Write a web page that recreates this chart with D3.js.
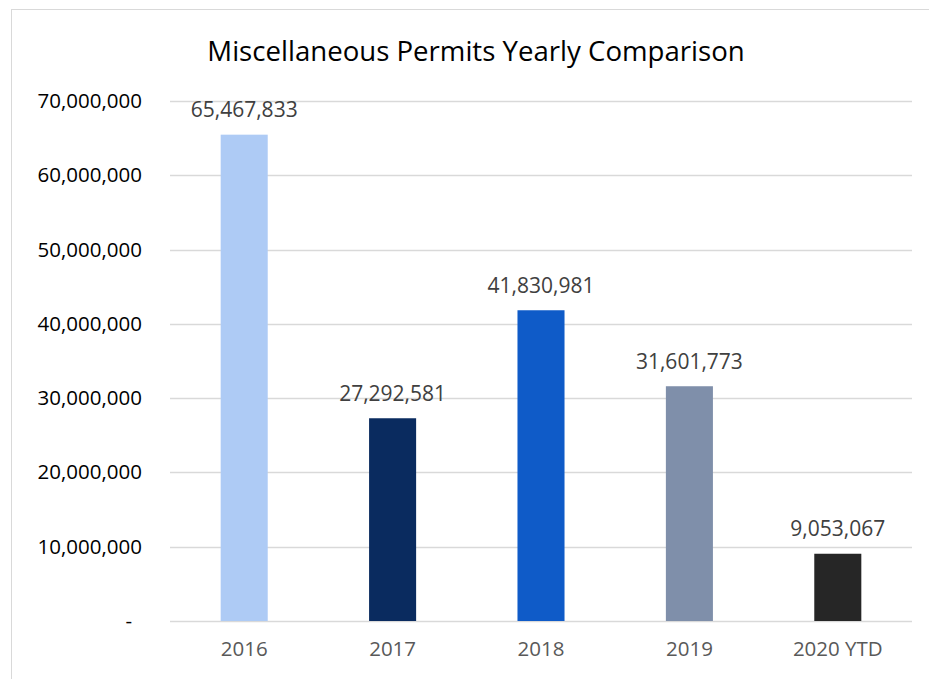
<!DOCTYPE html>
<html>
<head>
<meta charset="utf-8">
<script src="https://cdn.jsdelivr.net/npm/d3@7"></script>
<style>
  body { margin: 0; background: #fff; }
  text { font-family: "Open Sans", sans-serif; }
</style>
</head>
<body>
<div id="chart"></div>
<script>
const W = 929, H = 679;
const margin = { top: 101, right: 17, bottom: 58, left: 170 };
const width = W - margin.left - margin.right;
const height = H - margin.top - margin.bottom;

// data
const years = ["2016", "2017", "2018", "2019", "2020 YTD"];
const amounts = [65467833, 27292581, 41830981, 31601773, 9053067];
const barColors = ["#aecbf5", "#0a2b5f", "#0f5bc8", "#7f8faa", "#262626"];
const yTicks = [0, 10000000, 20000000, 30000000, 40000000, 50000000, 60000000, 70000000];

const dataset = years.map((y, i) => ({ year: y, value: amounts[i], color: barColors[i] }));

const svg = d3.select("#chart").append("svg")
  .attr("width", W)
  .attr("height", H);

// chart outline
svg.append("rect")
  .attr("x", 11.5).attr("y", 9.5)
  .attr("width", W).attr("height", H)
  .attr("fill", "none")
  .attr("stroke", "#d9d9d9")
  .attr("stroke-width", 1);

// title
svg.append("text")
  .attr("x", 476)
  .attr("y", 61)
  .attr("text-anchor", "middle")
  .style("font-size", "27.6px")
  .style("fill", "#000")
  .text("Miscellaneous Permits Yearly Comparison");

const g = svg.append("g")
  .attr("transform", `translate(${margin.left},${margin.top})`);

const x = d3.scaleBand()
  .domain(years)
  .range([0, width])
  .paddingInner(0.683)
  .paddingOuter(0.3415);

const y = d3.scaleLinear()
  .domain([0, 70000000])
  .range([height, 0]);

// gridlines
g.selectAll(".grid")
  .data(yTicks)
  .enter().append("line")
  .attr("x1", 0).attr("x2", width)
  .attr("y1", d => Math.round(y(d)) + 0.5)
  .attr("y2", d => Math.round(y(d)) + 0.5)
  .attr("stroke", "#d9d9d9")
  .attr("stroke-width", 1.5);

// y axis labels
const fmt = d3.format(",");
const yAxis = g.append("g")
  .call(d3.axisLeft(y).tickValues(yTicks).tickSize(0).tickPadding(28)
    .tickFormat(d => d === 0 ? "-" : fmt(d)));
yAxis.select(".domain").remove();
yAxis.selectAll("text")
  .attr("font-family", null)
  .style("font-size", "20.5px")
  .style("fill", "#000")
  .attr("dx", d => d === 0 ? -10 : 0);

// x axis labels
const xAxis = g.append("g")
  .attr("transform", `translate(0,${height})`)
  .call(d3.axisBottom(x).tickSize(0).tickPadding(20));
xAxis.select(".domain").remove();
xAxis.selectAll("text")
  .attr("font-family", null)
  .style("font-size", "20.5px")
  .style("fill", "#595959");

// bars
g.selectAll(".bar")
  .data(dataset)
  .enter().append("rect")
  .attr("class", "bar")
  .attr("x", d => x(d.year))
  .attr("y", d => y(d.value))
  .attr("width", x.bandwidth())
  .attr("height", d => height - y(d.value))
  .attr("fill", d => d.color);

// value labels
g.selectAll(".bar-label")
  .data(dataset)
  .enter().append("text")
  .attr("class", "bar-label")
  .attr("x", d => x(d.year) + x.bandwidth() / 2)
  .attr("y", d => y(d.value) - 17.5)
  .attr("text-anchor", "middle")
  .style("font-size", "21px")
  .style("fill", "#404040")
  .text(d => fmt(d.value));
</script>
</body>
</html>
